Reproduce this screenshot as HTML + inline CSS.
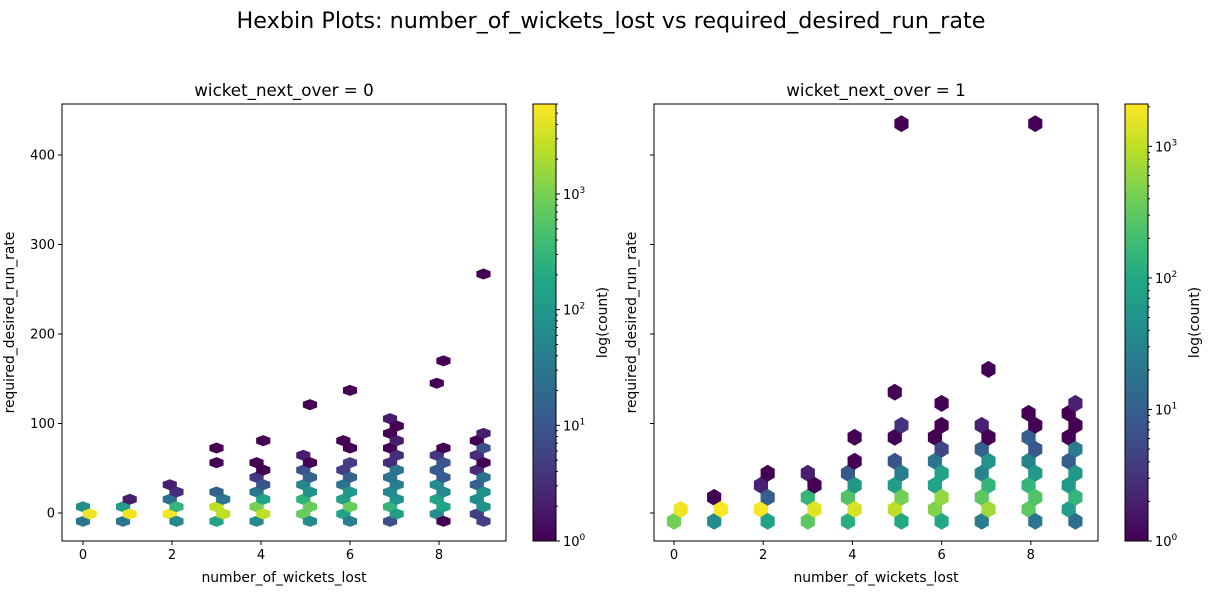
<!DOCTYPE html>
<html><head><meta charset="utf-8">
<style>
html,body{margin:0;padding:0;background:#fff;}
svg{display:block;font-family:"DejaVu Sans","Liberation Sans",sans-serif;}
</style></head>
<body>
<svg id="chart" width="1223" height="600" viewBox="0 0 1223 600" xmlns="http://www.w3.org/2000/svg">
<defs>
<linearGradient id="vir" x1="0" y1="1" x2="0" y2="0">
<stop offset="0" stop-color="#440154"/><stop offset="0.1" stop-color="#482475"/>
<stop offset="0.2" stop-color="#414487"/><stop offset="0.3" stop-color="#355f8d"/>
<stop offset="0.4" stop-color="#2a788e"/><stop offset="0.5" stop-color="#21918c"/>
<stop offset="0.6" stop-color="#22a884"/><stop offset="0.7" stop-color="#44bf70"/>
<stop offset="0.8" stop-color="#7ad151"/><stop offset="0.9" stop-color="#bddf26"/>
<stop offset="1" stop-color="#fde725"/>
</linearGradient>
</defs>
<text x="611" y="28" text-anchor="middle" font-size="22.3" fill="#000">Hexbin Plots: number_of_wickets_lost vs required_desired_run_rate</text>
</svg>
<script>
// ---- data: wicket_next_over = 0 ----
const leftX = [0,0,0.15, 0.9,0.9,1.05,1.05, 1.95,1.95,1.95,2.1,2.1,2.1, 3,3,3,3,3,3.15,3.15,
 3.9,3.9,3.9,3.9,3.9,4.05,4.05,4.05,4.05,4.05,
 4.95,4.95,4.95,4.95,4.95,5.1,5.1,5.1,5.1,5.1,5.1,
 5.85,5.85,5.85,5.85,5.85,6,6,6,6,6,6,6,
 6.9,6.9,6.9,6.9,6.9,6.9,6.9,6.9,7.05,7.05,7.05,7.05,7.05,7.05,7.05,
 7.95,7.95,7.95,7.95,7.95,7.95,8.1,8.1,8.1,8.1,8.1,8.1,8.1,
 8.85,8.85,8.85,8.85,8.85,8.85,9,9,9,9,9,9,9,9];
const leftY = [-9.3,7,-1.1, -9.3,7,-1.1,15.3, -1.1,15.3,31.6,-9.3,7,23.5, -9.3,7,23.5,56.2,72.6,-1.1,15.3,
 -9.3,7,23.5,39.9,56.2,-1.1,15.3,31.6,48,80.8,
 -1.1,15.3,31.6,48,64.5,-9.3,7,23.5,39.9,56.2,121,
 -1.1,15.3,31.6,48,80.8,-9.3,7,23.5,39.9,56.2,72.6,137,
 -9.3,7,23.5,39.9,56.2,72.6,89,105.4,-1.1,15.3,31.6,48,64.5,80.8,97.2,
 -1.1,15.3,31.6,48,64.5,145,-9.3,7,23.5,39.9,56.2,72.6,170,
 -1.1,15.3,31.6,48,64.5,80.8,-9.3,7,23.5,39.9,56.2,72.6,89,267];
const leftCount = [30,70,5000, 30,120,5000,2, 5000,25,2,60,300,3, 150,2500,15,1,1,2500,30,
 60,1000,30,4,1,2500,150,10,1,1,
 800,250,50,10,2,60,800,80,15,1,1,
 150,120,30,5,1,40,800,100,15,5,1,1,
 8,300,60,30,3,1,1,2,120,80,40,30,3,2,1,
 70,150,60,12,4,1,1,150,60,12,10,1,1,
 5,70,15,3,3,1,5,80,80,25,1,8,2,1];
// ---- data: wicket_next_over = 1 ----
const rightX = [0,0.15, 0.9,0.9,1.05, 1.95,1.95,2.1,2.1,2.1, 3,3,3,3.15,3.15,
 3.9,3.9,3.9,4.05,4.05,4.05,4.05,
 4.95,4.95,4.95,4.95,4.95,5.1,5.1,5.1,5.1,5.1,
 5.85,5.85,5.85,5.85,6,6,6,6,6,6,
 6.9,6.9,6.9,6.9,6.9,7.05,7.05,7.05,7.05,7.05,
 7.95,7.95,7.95,7.95,7.95,8.1,8.1,8.1,8.1,8.1,8.1,
 8.85,8.85,8.85,8.85,8.85,9,9,9,9,9,9];
const rightY = [-9.3,4.1, -9.3,17.5,4.1, 4.1,31,-9.3,17.5,44.4, -9.3,17.5,44.4,4.1,31,
 -9.3,17.5,44.4,4.1,31,57.8,84.6,
 4.1,31,57.8,84.6,135,-9.3,17.5,44.4,98,435,
 4.1,31,57.8,84.6,-9.3,17.5,44.4,71.2,98,122.5,
 -9.3,17.5,44.4,71.2,98,4.1,31,57.8,84.6,160.5,
 4.1,31,57.8,84.6,111.4,-9.3,17.5,44.4,71.2,98,435,
 4.1,31,57.8,84.6,111.4,-9.3,17.5,44.4,71.2,98,122.5];
const rightCount = [400,1800, 40,1,2000, 2000,2,80,10,1, 300,150,2,1500,1,
 120,250,8,1300,60,1,1,
 1000,70,7,1,1,100,400,25,3,1,
 500,80,20,1,100,600,80,5,1,1,
 25,300,30,10,2,700,150,50,1,1,
 300,150,30,10,1,20,250,60,8,1,1,
 70,60,10,1,1,15,150,60,25,1,2];
const xTickVals = [0,2,4,6,8];
const yTickVals = [0,100,200,300,400];
const cbarExps = [0,1,2,3];

const svg = document.getElementById('chart');
const NS = 'http://www.w3.org/2000/svg';
function mk(tag, attrs, parent){
  const e = document.createElementNS(NS, tag);
  for (const k in attrs) e.setAttribute(k, attrs[k]);
  (parent||svg).appendChild(e);
  return e;
}
const VIR = ['#440154','#482475','#414487','#355f8d','#2a788e','#21918c','#22a884','#44bf70','#7ad151','#bddf26','#fde725'];
function hex2rgb(h){return [parseInt(h.substr(1,2),16),parseInt(h.substr(3,2),16),parseInt(h.substr(5,2),16)];}
function viridis(t){
  t = Math.max(0, Math.min(1, t));
  const p = t*10, i = Math.min(9, Math.floor(p)), f = p - i;
  const a = hex2rgb(VIR[i]), b = hex2rgb(VIR[i+1]);
  return 'rgb(' + a.map((v,k)=>Math.round(v+(b[k]-v)*f)).join(',') + ')';
}

function panel(cfg){
  const {L, R, T, B, x0px, xPerUnit, y0px, yPerUnit, xs, ys, cs, vmax, hh, title, showYLabels, cbL, id} = cfg;
  const sx = v => x0px + v*xPerUnit;
  const sy = v => y0px - v*yPerUnit;
  const cy = v => B - (Math.log10(v)/Math.log10(vmax))*(B-T);
  const g = mk('g', {});
  
  
  const hw = 13.35/2;
  for (let i=0;i<xs.length;i++){
    const x = sx(xs[i]), y = sy(ys[i]);
    const col = viridis(Math.log10(cs[i])/Math.log10(vmax));
    const pts = [[hw,-hh/2],[hw,hh/2],[0,hh],[-hw,hh/2],[-hw,-hh/2],[0,-hh]].map(p=>(x+p[0]).toFixed(2)+','+(y+p[1]).toFixed(2)).join(' ');
    const h = mk('polygon', {points: pts, fill: col, stroke: col, 'stroke-width': 0.8}, g);
    
    
  }
  const fr = mk('rect', {x:L, y:T, width:R-L, height:B-T, fill:'none', stroke:'#000', 'stroke-width':1}, g);
  
  
  xTickVals.forEach(v=>{
    const x = sx(v);
    mk('line', {x1:x, x2:x, y1:B, y2:B+4, stroke:'#000'}, g);
    const t = mk('text', {x:x, y:B+18, 'text-anchor':'middle', 'font-size':13}, g);
    t.textContent = v;
    
    
  });
  yTickVals.forEach(v=>{
    const y = sy(v);
    mk('line', {x1:L-4, x2:L, y1:y, y2:y, stroke:'#000'}, g);
    if (showYLabels){
      const t = mk('text', {x:L-7, y:y+4.5, 'text-anchor':'end', 'font-size':13}, g);
      t.textContent = v;
      
      
    }
  });
  const xt = mk('text', {x:(L+R)/2, y:B+41, 'text-anchor':'middle', 'font-size':13.9}, g);
  xt.textContent = 'number_of_wickets_lost';
  
  
  const yx = showYLabels ? L-48 : L-18;
  const yt = mk('text', {x:yx, y:(T+B)/2, 'text-anchor':'middle', 'font-size':13.9, transform:'rotate(-90 '+yx+' '+(T+B)/2+')'}, g);
  yt.textContent = 'required_desired_run_rate';
  
  
  const tt = mk('text', {x:(L+R)/2, y:T-8, 'text-anchor':'middle', 'font-size':16.7}, g);
  tt.textContent = title;
  
  
  const cb = mk('g', {}, g);
  
  
  mk('rect', {x:cbL, y:T, width:23, height:B-T, fill:'url(#vir)', stroke:'#000', 'stroke-width':1}, cb);
  const maxExp = Math.log10(vmax);
  for (let e=0; e<=Math.ceil(maxExp); e++){
    for (let m=1; m<10; m++){
      const v = m*Math.pow(10,e);
      if (v > vmax) break;
      const y = cy(v);
      mk('line', {x1:cbL+23, x2:cbL+23+(m===1?4:2), y1:y, y2:y, stroke:'#000'}, cb);
    }
  }
  cbarExps.forEach(e=>{
    const y = cy(Math.pow(10,e));
    const t = mk('text', {x:cbL+30, y:y+5, 'font-size':13}, cb);
    
    
    const a = mk('tspan', {}, t); a.textContent = '10';
    const b = mk('tspan', {dy:-6, 'font-size':9}, t); b.textContent = e;
  });
  const lx = cbL + 74;
  const lt = mk('text', {x:lx, y:(T+B)/2, 'text-anchor':'middle', 'font-size':13.9, transform:'rotate(-90 '+lx+' '+(T+B)/2+')'}, cb);
  lt.textContent = 'log(count)';
  
  
}

panel({id:'left', L:62, R:506, T:104, B:541, x0px:83, xPerUnit:44.5, y0px:513, yPerUnit:0.895,
  xs:leftX, ys:leftY, cs:leftCount, vmax:6000, hh:5.1, title:'wicket_next_over = 0', showYLabels:true, cbL:533});
panel({id:'right', L:654, R:1098, T:104, B:541, x0px:674, xPerUnit:44.6, y0px:513, yPerUnit:0.895,
  xs:rightX, ys:rightY, cs:rightCount, vmax:2100, hh:8, title:'wicket_next_over = 1', showYLabels:false, cbL:1125});
</script>
</body></html>
